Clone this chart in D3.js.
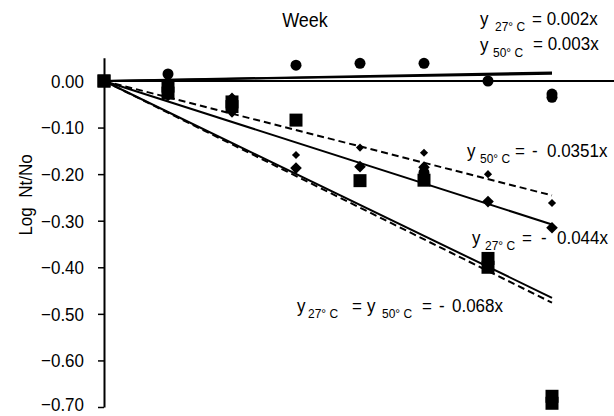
<!DOCTYPE html>
<html>
<head>
<meta charset="utf-8">
<script src="https://cdn.jsdelivr.net/npm/d3@7/dist/d3.min.js"></script>
<style>
    body { margin: 0; background: #fff; }
    svg text { font-family: 'Liberation Sans', Arial, sans-serif; fill: #000; }
</style>
</head>
<body>
<div id="chart"></div>
<script>
// weeks of storage
var weeks = [0, 1, 2, 3, 4, 5, 6, 7];

// Log Nt/No values (null = no point)
var circle27  = [0, 0.015, null, 0.034, 0.038, 0.038, 0.000, -0.028];
var circle50  = [0, -0.005, null, null, null, -0.197, null, -0.035];
var diamond27 = [0, -0.025, -0.037, -0.187, -0.184, -0.185, -0.259, -0.315];
var diamond50 = [0, -0.035, -0.070, -0.159, -0.143, -0.154, -0.200, -0.262];
var square27  = [0, -0.011, -0.045, -0.084, -0.214, -0.213, -0.381, -0.677];
var square50  = [0, -0.026, -0.055, null, null, null, -0.400, -0.692];

// trend line slopes (y = a*x), as drawn
var slopes27 = [0.0022, -0.044, -0.0665];
var slopes50 = [0.0026, -0.0351, -0.068];

var yTicks = [0, -0.1, -0.2, -0.3, -0.4, -0.5, -0.6, -0.7];

var width = 614, height = 416;
var stretch = 1.12; // the original font is a bit taller than Arial

var svg = d3.select('#chart').append('svg')
    .attr('width', width)
    .attr('height', height);

var x = d3.scaleLinear().domain([0, 7]).range([104, 552]);
var y = d3.scaleLinear().domain([-0.7, 0.05]).range([407, 57.7]);

// y axis
var yAxis = d3.axisLeft(y)
    .tickValues(yTicks)
    .tickSize(6)
    .tickSizeOuter(0)
    .tickFormat(d3.format('.2f'));

var gy = svg.append('g')
    .attr('transform', 'translate(' + x(0) + ',0)')
    .call(yAxis);
gy.select('.domain').attr('stroke-width', 2);
gy.selectAll('.tick line').attr('stroke-width', 1.5);
gy.selectAll('.tick text')
    .attr('x', -20)
    // last label sits on the bottom edge, lift it a touch
    .attr('dy', function(d){ return d === -0.7 ? '0.18em' : '0.33em'; })
    .attr('transform', 'scale(1,' + stretch + ')')
    .style('font-size', '17px')
    .text(function(d){ return d === 0 ? '0.00' : d3.format('.2f')(d); });

// horizontal axis line at zero
svg.append('line')
    .attr('x1', x(0)).attr('x2', width)
    .attr('y1', y(0)).attr('y2', y(0))
    .attr('stroke', '#000')
    .attr('stroke-width', 2);

svg.append('text')
    .attr('transform', 'translate(305,27) scale(1,' + stretch + ')')
    .attr('text-anchor', 'middle')
    .style('font-size', '18px')
    .text('Week');

svg.append('text')
    .attr('transform', 'translate(32,195) rotate(-90) scale(1,' + stretch + ')')
    .attr('text-anchor', 'middle')
    .style('font-size', '17px')
    .style('white-space', 'pre')
    .text('Log  Nt/No');

// trend lines
function trend(a, dashed) {
    svg.append('line')
        .attr('x1', x(0)).attr('y1', y(0))
        .attr('x2', x(7)).attr('y2', y(a * 7))
        .attr('stroke', '#000')
        .attr('stroke-width', 2)
        .attr('stroke-dasharray', dashed ? '7,4' : null);
}
slopes27.forEach(function(a){ trend(a, false); });
slopes50.forEach(function(a, i){ trend(a, i > 0 ? true : false); });

// markers
function points(values, shape, size) {
    var pts = weeks.map(function(w, i){ return {w: w, v: values[i]}; })
        .filter(function(d){ return d.v !== null; });
    svg.append('g').selectAll('path')
        .data(pts)
        .enter()
        .append('path')
        .attr('transform', function(d){ return 'translate(' + x(d.w) + ',' + y(d.v) + ')'; })
        .attr('d', d3.symbol().type(shape).size(size))
        .attr('fill', '#000');
}
points(diamond50, d3.symbolDiamond2, 42);
points(diamond27, d3.symbolDiamond2, 86);
points(circle27, d3.symbolCircle, 95);
points(circle50, d3.symbolCircle, 95);
points(square27, d3.symbolSquare, 169);
points(square50, d3.symbolSquare, 169);

// equation labels: [text, x, y, subscript]
var labels = [
    [['y', 480, 25, 0], ['27\u00b0 C', 495, 30, 1], ['= 0.002x', 532, 25, 0]],
    [['y', 480, 51, 0], ['50\u00b0 C', 493, 56, 1], ['= 0.003x', 533, 50, 0]],
    [['y', 467, 157, 0], ['50\u00b0 C', 480, 162, 1], ['=', 515, 157, 0], ['-', 532, 157, 0], ['0.0351x', 547, 157, 0]],
    [['y', 472, 244, 0], ['27\u00b0 C', 485, 249, 1], ['=', 522, 244, 0], ['-', 541, 244, 0], ['0.044x', 557, 244, 0]],
    [['y', 297, 312, 0], ['27\u00b0 C', 308, 317, 1], ['=', 352, 312, 0], ['y', 367, 312, 0], ['50\u00b0 C', 382, 317, 1],
     ['=', 422, 312, 0], ['-', 439, 312, 0], ['0.068x', 452, 312, 0]]
];

labels.forEach(function(parts){
    var base = parts[0][2];
    var t = svg.append('text')
        .attr('transform', 'translate(0,' + base + ') scale(1,' + stretch + ') translate(0,' + (-base) + ')');
    parts.forEach(function(p){
        t.append('tspan')
            .attr('x', p[1]).attr('y', p[2])
            .style('font-size', p[3] ? '12px' : '17px')
            .text(p[0]);
    });
});
</script>
</body>
</html>
